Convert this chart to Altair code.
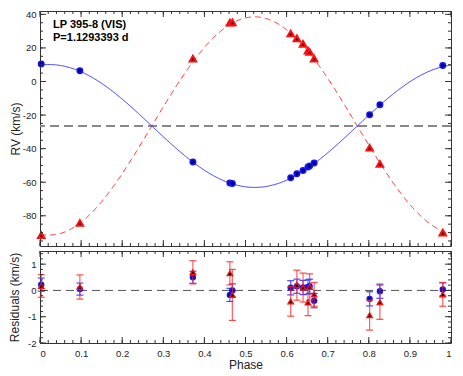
import altair as alt
import pandas as pd

# ---------------- data ----------------
phase = [0.003, 0.097, 0.372, 0.462, 0.468, 0.610, 0.625, 0.640, 0.652, 0.656, 0.667, 0.802, 0.827, 0.980]
rv_a = [10.5, 6.4, -47.9, -60.5, -60.8, -57.3, -55.0, -53.0, -51.0, -50.3, -48.6, -19.8, -13.8, 9.5]
rv_b = [-91.5, -84.3, 13.6, 35.1, 35.2, 28.6, 25.7, 22.4, 18.4, 17.6, 13.6, -39.5, -49.1, -90.0]
res_a = [0.22, 0.05, 0.50, -0.17, 0.00, 0.10, 0.16, 0.11, 0.13, 0.16, -0.39, -0.32, -0.03, 0.04]
err_a = [0.25, 0.23, 0.23, 0.25, 0.25, 0.27, 0.27, 0.27, 0.27, 0.27, 0.27, 0.27, 0.27, 0.25]
res_b = [0.17, 0.13, 0.69, 0.65, -0.17, -0.42, 0.20, 0.11, -0.46, 0.13, -0.15, -0.94, -0.45, -0.15]
err_b = [0.43, 0.46, 0.44, 0.44, 0.97, 0.56, 0.57, 0.55, 0.50, 0.50, 0.45, 0.57, 0.65, 0.45]

# orbital fit parameters
gamma = -26.5
k_a = 36.6
k_b = 65.0
phase0 = 0.022

title_lines = ["LP 395-8 (VIS)", "P=1.1293393 d"]

x_major = [0, 0.1, 0.2, 0.3, 0.4, 0.5, 0.6, 0.7, 0.8, 0.9, 1.0]
x_minor = [round(i * 0.02, 2) for i in range(51)]
rv_major = [-80, -60, -40, -20, 0, 20, 40]
rv_minor = list(range(-95, 41, 5))
res_major = [-2, -1, 0, 1]
res_minor = [round(-2 + 0.2 * i, 1) for i in range(18)]

FONT = "Liberation Sans"
AX = "#333333"
TK = "#333333"

df = pd.DataFrame({"phase": phase, "rv_a": rv_a, "rv_b": rv_b,
                   "res_a": res_a, "err_a": err_a, "res_b": res_b, "err_b": err_b})

xscale = alt.Scale(domain=[0, 1], nice=False, zero=False)
rv_scale = alt.Scale(domain=[-98, 42], nice=False, zero=False)
res_scale = alt.Scale(domain=[-2, 1.5], nice=False, zero=False)

W = 411
H_TOP = 235
H_RES = 92


def label_axis(orient, values, labels, title, lp, tp):
    return alt.Axis(orient=orient, values=values, ticks=False, domain=False, grid=False,
                    labels=labels, title=title, labelPadding=lp, titlePadding=tp,
                    labelExpr="datum.value + ''",
                    labelFont=FONT, labelFontSize=9.5, labelColor="#222",
                    titleFont=FONT, titleFontSize=12, titleFontWeight="normal",
                    titleColor="#222")


def frame_ticks(yscale, ymajor, yminor, h):
    """Inward ticks on all four sides of a panel, placed through the scales."""
    out = []
    for vals, ln in ((x_minor, 3), (x_major, 6)):
        d = alt.Chart(pd.DataFrame({"v": vals}))
        enc_x = alt.X("v:Q", scale=xscale, axis=None)
        out.append(d.mark_rule(color=TK, strokeWidth=1).encode(
            x=enc_x, y=alt.value(h), y2=alt.value(h - ln)))
        out.append(d.mark_rule(color=TK, strokeWidth=1).encode(
            x=enc_x, y=alt.value(0), y2=alt.value(ln)))
    for vals, ln in ((yminor, 3), (ymajor, 6)):
        d = alt.Chart(pd.DataFrame({"v": vals}))
        enc_y = alt.Y("v:Q", scale=yscale, axis=None)
        out.append(d.mark_rule(color=TK, strokeWidth=1).encode(
            y=enc_y, x=alt.value(0), x2=alt.value(ln)))
        out.append(d.mark_rule(color=TK, strokeWidth=1).encode(
            y=enc_y, x=alt.value(W), x2=alt.value(W - ln)))
    return out


def axes_layer(yfield, yscale, ymajor, xlabels, xtitle, ytitle, ytp):
    return alt.Chart(df).mark_point(opacity=0).encode(
        x=alt.X("phase:Q", scale=xscale,
                axis=label_axis("bottom", x_major, xlabels, xtitle, 5, 2)),
        y=alt.Y(f"{yfield}:Q", scale=yscale,
                axis=label_axis("left", ymajor, True, ytitle, 4, ytp)))


# ---------------- top panel ----------------
curve = alt.Chart(alt.sequence(0, 1.0021, 0.002, as_="phase")).transform_calculate(
    fa=f"{gamma} + {k_a}*cos(2*PI*(datum.phase-{phase0}))",
    fb=f"{gamma} - {k_b}*cos(2*PI*(datum.phase-{phase0}))",
)
curve_a = curve.mark_line(color="#3a3aff", strokeWidth=1).encode(
    x=alt.X("phase:Q", scale=xscale, axis=None),
    y=alt.Y("fa:Q", scale=rv_scale, axis=None))
curve_b = curve.mark_line(color="#ff3030", strokeWidth=1, strokeDash=[6, 4]).encode(
    x=alt.X("phase:Q", scale=xscale, axis=None),
    y=alt.Y("fb:Q", scale=rv_scale, axis=None))

gline = alt.Chart(pd.DataFrame({"g": [gamma]})).mark_rule(
    color="#888888", strokeWidth=2, strokeDash=[9, 5]).encode(
    y=alt.Y("g:Q", scale=rv_scale, axis=None))

pts_a = alt.Chart(df).mark_point(shape="circle", filled=True, size=30, fill="#00007a",
                                 stroke="#1515ff", strokeWidth=1.5, opacity=1).encode(
    x=alt.X("phase:Q", scale=xscale, axis=None),
    y=alt.Y("rv_a:Q", scale=rv_scale, axis=None))
pts_b = alt.Chart(df).mark_point(shape="triangle-up", filled=True, size=42, fill="#300000",
                                 stroke="#ff1010", strokeWidth=2, opacity=1).encode(
    x=alt.X("phase:Q", scale=xscale, axis=None),
    y=alt.Y("rv_b:Q", scale=rv_scale, axis=None))

label_df = pd.DataFrame({"t": title_lines, "yy": [17, 30]})
labels = alt.Chart(label_df).mark_text(align="left", baseline="alphabetic", font=FONT,
                                       fontSize=11, fontWeight="bold", color="#000").encode(
    x=alt.value(13), y=alt.Y("yy:Q", scale=None, axis=None), text="t:N")

top = alt.layer(
    axes_layer("rv_a", rv_scale, rv_major, False, None, "RV (km/s)", 0),
    gline, curve_b, curve_a, pts_a, pts_b, labels,
    *frame_ticks(rv_scale, rv_major, rv_minor, H_TOP),
).resolve_axis(x="independent", y="independent").properties(width=W, height=H_TOP)

# ---------------- residual panel ----------------
base = alt.Chart(df).transform_calculate(
    lo_a="datum.res_a - datum.err_a", hi_a="datum.res_a + datum.err_a",
    lo_b="datum.res_b - datum.err_b", hi_b="datum.res_b + datum.err_b")
X = alt.X("phase:Q", scale=xscale, axis=None)


def errbars(lo, hi, color):
    bar = base.mark_rule(color=color, strokeWidth=1.2, opacity=0.75).encode(
        x=X, y=alt.Y(f"{lo}:Q", scale=res_scale, axis=None), y2=f"{hi}:Q")
    cap1 = base.mark_tick(color=color, orient="horizontal", size=7, thickness=1.2,
                          opacity=0.85).encode(x=X, y=alt.Y(f"{lo}:Q", scale=res_scale, axis=None))
    cap2 = base.mark_tick(color=color, orient="horizontal", size=7, thickness=1.2,
                          opacity=0.85).encode(x=X, y=alt.Y(f"{hi}:Q", scale=res_scale, axis=None))
    return [bar, cap1, cap2]


zero = alt.Chart(pd.DataFrame({"z": [0]})).mark_rule(
    color="#555555", strokeWidth=1, strokeDash=[8, 5]).encode(
    y=alt.Y("z:Q", scale=res_scale, axis=None))

rpts_a = alt.Chart(df).mark_point(shape="circle", filled=True, size=24, fill="#00007a",
                                  stroke="#1515ff", strokeWidth=1.5, opacity=1).encode(
    x=X, y=alt.Y("res_a:Q", scale=res_scale, axis=None))
rpts_b = alt.Chart(df).mark_point(shape="triangle-up", filled=True, size=30, fill="#000000",
                                  stroke="#ff1010", strokeWidth=1.3, opacity=1).encode(
    x=X, y=alt.Y("res_b:Q", scale=res_scale, axis=None))

bottom = alt.layer(
    axes_layer("res_a", res_scale, res_major, True, "Phase", "Residuals (km/s)", 6),
    zero, *errbars("lo_a", "hi_a", "#2a2aff"), rpts_a,
    *errbars("lo_b", "hi_b", "#ff2a2a"), rpts_b,
    *frame_ticks(res_scale, res_major, res_minor, H_RES),
).resolve_axis(x="independent", y="independent").properties(width=W, height=H_RES)

chart = alt.vconcat(top, bottom, spacing=3).configure_view(
    stroke=AX, strokeWidth=1).properties(
    padding={"left": 0, "top": 0, "right": 0, "bottom": 0})

chart.save("out.html", embed_options={"renderer": "svg", "actions": False})
